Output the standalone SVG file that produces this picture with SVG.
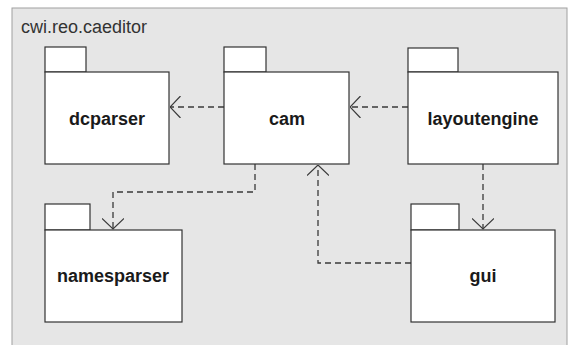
<svg xmlns="http://www.w3.org/2000/svg" width="575" height="345" viewBox="0 0 575 345">
<style>
.pkg rect{fill:#fff;stroke:#333;stroke-width:1.2}
.lbl{font-family:"Liberation Sans",Arial,sans-serif;font-weight:bold;font-size:18px;fill:#1a1a1a;text-anchor:middle}
.dep{fill:none;stroke:#3a3a3a;stroke-width:1.3;stroke-dasharray:6,4}
</style>
<defs>
<marker id="open" viewBox="0 0 12 22" refX="11.5" refY="11" markerWidth="12" markerHeight="22" markerUnits="userSpaceOnUse" orient="auto">
<path d="M1,0 L11.5,11 L1,22" fill="none" stroke="#3a3a3a" stroke-width="1.2"/>
</marker>
</defs>
<rect x="0" y="0" width="575" height="345" fill="#fff"/>
<rect x="12" y="8" width="555" height="345" fill="#e6e6e6" stroke="#a0a0a0" stroke-width="1"/>
<text x="21" y="33" font-family="Liberation Sans,Arial,sans-serif" font-size="18" fill="#333">cwi.reo.caeditor</text>
<g id="connectors">
<path class="dep" d="M224,107 H170" marker-end="url(#open)"/>
<path class="dep" d="M408,107 H350" marker-end="url(#open)"/>
<path class="dep" d="M255,164 V192 H113 V229" marker-end="url(#open)"/>
<path class="dep" d="M483,164 V229" marker-end="url(#open)"/>
<path class="dep" d="M411,263 H318 V165" marker-end="url(#open)"/>
</g>
<g id="dcparser" class="pkg">
<rect x="45" y="47" width="41" height="25"/>
<rect x="45" y="72" width="124" height="92"/>
<text class="lbl" x="107" y="125">dcparser</text>
</g>
<g id="cam" class="pkg">
<rect x="224" y="47" width="42" height="25"/>
<rect x="224" y="72" width="125" height="92"/>
<text class="lbl" x="287" y="125">cam</text>
</g>
<g id="layoutengine" class="pkg">
<rect x="408" y="48" width="50" height="24"/>
<rect x="408" y="72" width="150" height="92"/>
<text class="lbl" x="483" y="125">layoutengine</text>
</g>
<g id="namesparser" class="pkg">
<rect x="45" y="204" width="45" height="26"/>
<rect x="45" y="230" width="137" height="92"/>
<text class="lbl" x="113" y="282">namesparser</text>
</g>
<g id="gui" class="pkg">
<rect x="411" y="204" width="48" height="26"/>
<rect x="411" y="230" width="144" height="92"/>
<text class="lbl" x="483" y="282">gui</text>
</g>
</svg>
